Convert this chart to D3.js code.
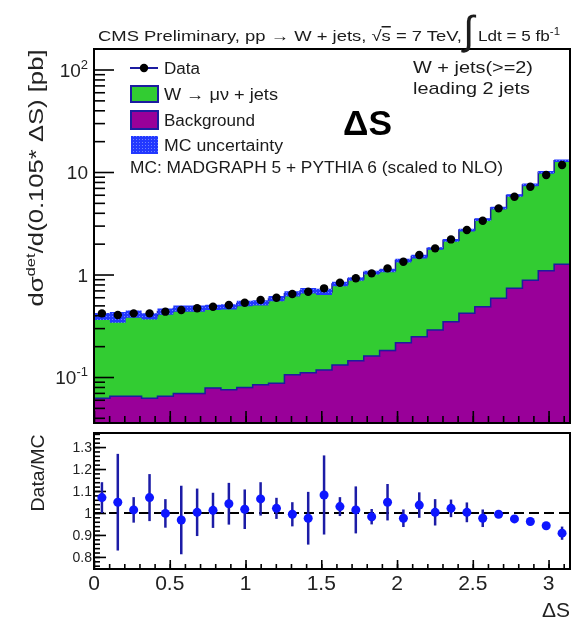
<!DOCTYPE html>
<html>
<head>
<meta charset="utf-8">
<script src="https://cdn.jsdelivr.net/npm/d3@7"></script>
<style>
    body { margin: 0; background: #fff; }
    svg { display: block; font-family: "Liberation Sans", Arial, Helvetica, sans-serif; }
</style>
</head>
<body>
<svg width="572" height="621"></svg>
<script>
// Bin contents: 30 bins of width 0.105 in dS
var nBins = 30;
var dataVals = [0.418, 0.403, 0.418, 0.418, 0.434, 0.451, 0.468, 0.485, 0.504, 0.531,
                0.564, 0.594, 0.645, 0.679, 0.733, 0.832, 0.918, 1.026, 1.148, 1.334,
                1.549, 1.80, 2.20, 2.72, 3.35, 4.42, 5.74, 7.19, 9.35, 11.7];
var wjetsVals = [0.329, 0.319, 0.347, 0.329, 0.370, 0.397, 0.398, 0.401, 0.409, 0.443,
                 0.446, 0.495, 0.544, 0.586, 0.560, 0.678, 0.761, 0.884, 0.913, 1.151,
                 1.248, 1.508, 1.808, 2.294, 2.947, 3.861, 5.166, 6.602, 8.836, 11.625];
var bkgVals = [0.062, 0.065, 0.065, 0.062, 0.065, 0.069, 0.069, 0.078, 0.075, 0.079,
               0.084, 0.087, 0.105, 0.110, 0.117, 0.131, 0.144, 0.160, 0.181, 0.216,
               0.247, 0.287, 0.347, 0.418, 0.485, 0.586, 0.733, 0.880, 1.09, 1.26];
var mcUncFrac = [0.08, 0.12, 0.08, 0.07, 0.07, 0.07, 0.07, 0.06, 0.06, 0.06,
                 0.06, 0.06, 0.06, 0.06, 0.07, 0.05, 0.04, 0.04, 0.04, 0.04,
                 0.04, 0.03, 0.03, 0.03, 0.03, 0.03, 0.03, 0.03, 0.03, 0.03];
var ratioVals = [1.070, 1.049, 1.014, 1.070, 0.998, 0.968, 1.003, 1.012, 1.042, 1.017,
                 1.064, 1.021, 0.994, 0.976, 1.082, 1.029, 1.014, 0.983, 1.049, 0.976,
                 1.036, 1.003, 1.021, 1.003, 0.976, 0.994, 0.973, 0.961, 0.942, 0.908];
var ratioErr = [0.070, 0.220, 0.058, 0.107, 0.065, 0.156, 0.108, 0.080, 0.095, 0.090,
                0.076, 0.048, 0.055, 0.120, 0.180, 0.043, 0.107, 0.035, 0.083, 0.040,
                0.058, 0.060, 0.040, 0.045, 0.040, 0.015, 0.015, 0.010, 0.010, 0.030];

// Tick labels
var yTickVals = [0.1, 1, 10, 100];
var yTickBase = ["10", "1", "10", "10"];
var yTickSup = ["-1", "", "", "2"];
var ratioTickVals = [0.8, 0.9, 1, 1.1, 1.2, 1.3];
var ratioTickLabels = ["0.8", "0.9", "1", "1.1", "1.2", "1.3"];
var xTickVals = [0, 0.5, 1, 1.5, 2, 2.5, 3];
var xTickLabels = ["0", "0.5", "1", "1.5", "2", "2.5", "3"];

// Layout
var root = d3.select("svg");
var left = 94, right = 570,
    upTop = 49, upBot = 423,
    ratTop = 433, ratBot = 569;

var x = d3.scaleLinear().domain([0, Math.PI]).range([left, right]);
var yUp = d3.scaleLog().domain([0.0356, 158.5]).range([upBot, upTop]);
var yRat = d3.scaleLinear().domain([0.745, 1.364]).range([ratBot, ratTop]);

var edges = d3.range(nBins + 1).map(function (i) { return i * Math.PI / nBins; });
var centers = d3.range(nBins).map(function (i) { return (i + 0.5) * Math.PI / nBins; });
var totalVals = wjetsVals.map(function (v, i) { return v + bkgVals[i]; });

function stepPts(vals) {
    return edges.map(function (e, i) { return [e, vals[Math.min(i, nBins - 1)]]; });
}

function fitText(sel, w) {
    sel.attr("textLength", w).attr("lengthAdjust", "spacingAndGlyphs");
}

var defs = root.append("defs");
defs.append("clipPath").attr("id", "clipUp")
    .append("rect").attr("x", left).attr("y", upTop)
    .attr("width", right - left).attr("height", upBot - upTop);
var pat = defs.append("pattern").attr("id", "hatch")
    .attr("patternUnits", "userSpaceOnUse").attr("width", 3).attr("height", 3);
pat.append("rect").attr("width", 3).attr("height", 3).attr("fill", "#2038ff");
pat.append("rect").attr("x", 1).attr("y", 1).attr("width", 1).attr("height", 1).attr("fill", "#6f82ff");
// the original is a soft, upscaled bitmap
defs.append("filter").attr("id", "soft")
    .append("feGaussianBlur").attr("stdDeviation", 0.5);

var svg = root.append("g").attr("filter", "url(#soft)");

// ---------- Upper panel ----------
var gUp = svg.append("g").attr("clip-path", "url(#clipUp)");

var stepArea = d3.area().curve(d3.curveStepAfter)
    .x(function (d) { return x(d[0]); })
    .y0(upBot)
    .y1(function (d) { return yUp(d[1]); });
var stepLine = d3.line().curve(d3.curveStepAfter)
    .x(function (d) { return x(d[0]); })
    .y(function (d) { return yUp(d[1]); });

gUp.append("path").datum(stepPts(totalVals))
    .attr("d", stepArea).attr("fill", "#33cc33");
gUp.append("path").datum(stepPts(bkgVals))
    .attr("d", stepArea).attr("fill", "#990099");
gUp.append("path").datum(stepPts(bkgVals))
    .attr("d", stepLine).attr("fill", "none").attr("stroke", "#1a1aa0").attr("stroke-width", 1.5);
gUp.append("path").datum(stepPts(totalVals))
    .attr("d", stepLine).attr("fill", "none").attr("stroke", "#1a1aa0").attr("stroke-width", 1.5);

// MC uncertainty band
var bandPts = edges.map(function (e, i) {
    var k = Math.min(i, nBins - 1);
    return [e, totalVals[k] * (1 - mcUncFrac[k]), totalVals[k] * (1 + mcUncFrac[k])];
});
gUp.append("path").datum(bandPts)
    .attr("d", d3.area().curve(d3.curveStepAfter)
        .x(function (d) { return x(d[0]); })
        .y0(function (d) { return yUp(d[1]); })
        .y1(function (d) { return yUp(d[2]); }))
    .attr("fill", "url(#hatch)");

// Data points
gUp.selectAll("circle.data").data(dataVals).enter().append("circle")
    .attr("class", "data")
    .attr("cx", function (d, i) { return x(centers[i]); })
    .attr("cy", function (d) { return yUp(d); })
    .attr("r", 4.2).attr("fill", "#000");

// Upper axes (ticks point inwards)
var minorUp = [];
[-2, -1, 0, 1, 2].forEach(function (p) {
    for (var m = 2; m <= 9; m++) {
        var v = m * Math.pow(10, p);
        if (v > yUp.domain()[0] && v < yUp.domain()[1]) minorUp.push(v);
    }
});
var axY = svg.append("g").attr("transform", "translate(" + left + ",0)");
axY.append("g").call(d3.axisLeft(yUp).tickValues(yTickVals).tickSize(-20).tickFormat(""));
axY.append("g").call(d3.axisLeft(yUp).tickValues(minorUp).tickSize(-11).tickFormat(""));

var axXUp = svg.append("g").attr("transform", "translate(0," + upBot + ")");
axXUp.append("g").call(d3.axisBottom(x).tickValues(xTickVals).tickSize(-12).tickFormat(""));
axXUp.append("g").call(d3.axisBottom(x).tickValues(d3.range(1, 32).map(function (i) { return i / 10; }))
    .tickSize(-7).tickFormat(""));

yTickVals.forEach(function (v, i) {
    var t = svg.append("text")
        .attr("x", 88).attr("y", yUp(v) + 7)
        .attr("text-anchor", "end").attr("font-size", 19).attr("fill", "#222")
        .text(yTickBase[i]);
    if (yTickSup[i]) {
        t.append("tspan").attr("dy", -8).attr("font-size", 13).text(yTickSup[i]);
    }
});

svg.append("rect").attr("x", left).attr("y", upTop)
    .attr("width", right - left).attr("height", upBot - upTop)
    .attr("fill", "none").attr("stroke", "#000").attr("stroke-width", 2);

// Y title
var yt = svg.append("text")
    .attr("transform", "translate(43,178) rotate(-90)")
    .attr("text-anchor", "middle").attr("font-size", 20).attr("fill", "#222");
yt.append("tspan").text("dσ");
yt.append("tspan").attr("dy", -8).attr("font-size", 13).text("det");
yt.append("tspan").attr("dy", 8).text("/d(0.105* ΔS) [pb]");
fitText(yt, 257);

// Legend
svg.append("line").attr("x1", 130).attr("x2", 158).attr("y1", 68).attr("y2", 68)
    .attr("stroke", "#1a1aa0").attr("stroke-width", 2);
svg.append("circle").attr("cx", 144).attr("cy", 68).attr("r", 4.2).attr("fill", "#000");
svg.append("rect").attr("x", 131).attr("y", 86).attr("width", 27).attr("height", 16)
    .attr("fill", "#33cc33").attr("stroke", "#1a1aa0").attr("stroke-width", 2);
svg.append("rect").attr("x", 131).attr("y", 111).attr("width", 27).attr("height", 18)
    .attr("fill", "#990099").attr("stroke", "#1a1aa0").attr("stroke-width", 2);
svg.append("rect").attr("x", 131).attr("y", 136).attr("width", 27).attr("height", 18)
    .attr("fill", "url(#hatch)");

var legendLabels = ["Data", "W → μν + jets", "Background", "MC uncertainty"];
var legendY = [68, 94, 120, 145];
var legendW = [36, 114, 91, 119];
legendLabels.forEach(function (s, i) {
    var t = svg.append("text").attr("x", 164).attr("y", legendY[i] + 6)
        .attr("font-size", 16).attr("fill", "#1a1a1a").text(s);
    fitText(t, legendW[i]);
});
fitText(svg.append("text").attr("x", 130).attr("y", 173).attr("font-size", 16).attr("fill", "#1a1a1a")
    .text("MC: MADGRAPH 5 + PYTHIA 6 (scaled to NLO)"), 373);

fitText(svg.append("text").attr("x", 413).attr("y", 73).attr("font-size", 17).attr("fill", "#1a1a1a")
    .text("W + jets(>=2)"), 120);
fitText(svg.append("text").attr("x", 413).attr("y", 94).attr("font-size", 17).attr("fill", "#1a1a1a")
    .text("leading 2 jets"), 117);

// Title
var t1 = svg.append("text").attr("x", 98).attr("y", 41).attr("font-size", 15).attr("fill", "#1a1a1a");
t1.append("tspan").text("CMS Preliminary,  pp → W + jets, √");
t1.append("tspan").attr("text-decoration", "overline").text("s");
t1.append("tspan").text(" = 7 TeV,");
fitText(t1, 364);
svg.append("text").attr("x", 463).attr("y", 44).attr("font-size", 40).attr("fill", "#1a1a1a").text("∫");
var t2 = svg.append("text").attr("x", 478).attr("y", 41).attr("font-size", 15).attr("fill", "#1a1a1a");
t2.append("tspan").text("Ldt = 5 fb");
t2.append("tspan").attr("dy", -6).attr("font-size", 10).text("-1");
fitText(t2, 82);

// ---------- Ratio panel ----------
var axYR = svg.append("g").attr("transform", "translate(" + left + ",0)");
axYR.append("g").call(d3.axisLeft(yRat).tickValues(ratioTickVals).tickSize(-12).tickFormat(""));
axYR.append("g").call(d3.axisLeft(yRat).tickValues(d3.range(38, 69).map(function (i) { return i / 50; }))
    .tickSize(-6).tickFormat(""));
var axXR = svg.append("g").attr("transform", "translate(0," + ratBot + ")");
axXR.append("g").call(d3.axisBottom(x).tickValues(xTickVals).tickSize(-9).tickFormat(""));
axXR.append("g").call(d3.axisBottom(x).tickValues(d3.range(1, 32).map(function (i) { return i / 10; }))
    .tickSize(-5).tickFormat(""));

svg.append("line").attr("x1", left).attr("x2", right)
    .attr("y1", yRat(1)).attr("y2", yRat(1))
    .attr("stroke", "#000").attr("stroke-width", 2).attr("stroke-dasharray", "10,5");

svg.selectAll("line.rerr").data(ratioVals).enter().append("line")
    .attr("class", "rerr")
    .attr("x1", function (d, i) { return x(centers[i]); })
    .attr("x2", function (d, i) { return x(centers[i]); })
    .attr("y1", function (d, i) { return yRat(d - ratioErr[i]); })
    .attr("y2", function (d, i) { return yRat(d + ratioErr[i]); })
    .attr("stroke", "#1c1ca6").attr("stroke-width", 2.5);
svg.selectAll("circle.ratio").data(ratioVals).enter().append("circle")
    .attr("class", "ratio")
    .attr("cx", function (d, i) { return x(centers[i]); })
    .attr("cy", function (d) { return yRat(d); })
    .attr("r", 4.5).attr("fill", "#0a14ff");

ratioTickVals.forEach(function (v, i) {
    svg.append("text").attr("x", 92).attr("y", yRat(v) + 5)
        .attr("text-anchor", "end").attr("font-size", 14).attr("fill", "#222")
        .text(ratioTickLabels[i]);
});
xTickVals.forEach(function (v, i) {
    svg.append("text").attr("x", x(v)).attr("y", 590)
        .attr("text-anchor", "middle").attr("font-size", 21).attr("fill", "#222")
        .text(xTickLabels[i]);
});

svg.append("rect").attr("x", left).attr("y", ratTop)
    .attr("width", right - left).attr("height", ratBot - ratTop)
    .attr("fill", "none").attr("stroke", "#000").attr("stroke-width", 2);

var rt = svg.append("text").attr("transform", "translate(44,473) rotate(-90)")
    .attr("text-anchor", "middle").attr("font-size", 18).attr("fill", "#222").text("Data/MC");
fitText(rt, 77);

svg.append("text").attr("x", 570).attr("y", 617).attr("text-anchor", "end")
    .attr("font-size", 21).attr("fill", "#222").text("ΔS");

svg.selectAll(".domain").remove();
svg.selectAll(".tick line").attr("stroke", "#000").attr("stroke-width", 1.6);

// Overlaid bold label (sharp in the original)
fitText(root.append("text").attr("x", 343).attr("y", 135)
    .attr("font-size", 35).attr("font-weight", "bold").text("ΔS"), 49);
</script>
</body>
</html>
